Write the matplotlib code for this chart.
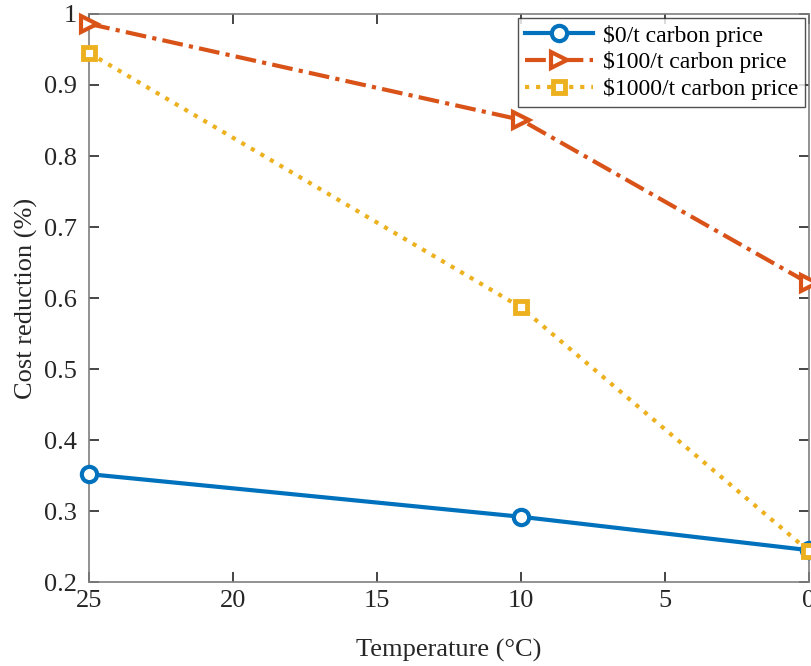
import matplotlib
matplotlib.use('Agg')
import matplotlib.pyplot as plt

plt.rcParams['font.family'] = ['Liberation Serif', 'DejaVu Serif']

temperature = [25, 10, 0]
price_0 = [0.352, 0.292, 0.245]
price_100 = [0.986, 0.851, 0.621]
price_1000 = [0.945, 0.587, 0.244]
labels = ['$0/t carbon price', '$100/t carbon price', '$1000/t carbon price']

fig = plt.figure(figsize=(8.11, 6.66), dpi=100)
ax = fig.add_axes([0.11, 0.126, 0.887, 0.853])

ax.plot(temperature, price_0, color='#0072BD', linestyle='-', linewidth=3,
        marker='o', markersize=11, markerfacecolor='white', markeredgewidth=3,
        label=labels[0].replace('$', r'\$'), clip_on=False, zorder=3)
ax.plot(temperature, price_100, color='#D95319', linestyle=(0, (5, 1.5, 1, 1.5)), linewidth=3,
        marker='>', markersize=12, markerfacecolor='white', markeredgewidth=3,
        label=labels[1].replace('$', r'\$'), clip_on=False, zorder=3)
ax.plot(temperature, price_1000, color='#EDB120', linestyle=':', linewidth=3,
        marker='s', markersize=9, markerfacecolor='white', markeredgewidth=3.5,
        label=labels[2].replace('$', r'\$'), clip_on=False, zorder=3)

ax.set_xlim(25, 0)
ax.set_ylim(0.2, 1)
ax.set_xticks([25, 20, 15, 10, 5, 0])
ax.set_yticks([0.2, 0.3, 0.4, 0.5, 0.6, 0.7, 0.8, 0.9, 1.0])
ax.set_yticklabels(['0.2', '0.3', '0.4', '0.5', '0.6', '0.7', '0.8', '0.9', '1'])
ax.tick_params(direction='in', length=7, width=1.2, labelsize=19, colors='#262626',
               top=True, right=True)
ax.tick_params(axis='y', pad=9)
ax.tick_params(axis='x', pad=6)
for s in ax.spines.values():
    s.set_color('#7f7f7f')
    s.set_linewidth(1.2)

ax.set_xlabel('Temperature (°C)', fontsize=19, color='#262626', labelpad=19)
ax.set_ylabel('Cost reduction (%)', fontsize=19, color='#262626', labelpad=4)

leg = ax.legend(loc='upper right', fontsize=17, frameon=True, fancybox=False,
                edgecolor='#262626', borderaxespad=0.15, handlelength=2.9,
                borderpad=0.3, labelspacing=0.2, handletextpad=0.4)
leg.get_frame().set_linewidth(1.0)

fig.savefig('out.png', dpi=100)
